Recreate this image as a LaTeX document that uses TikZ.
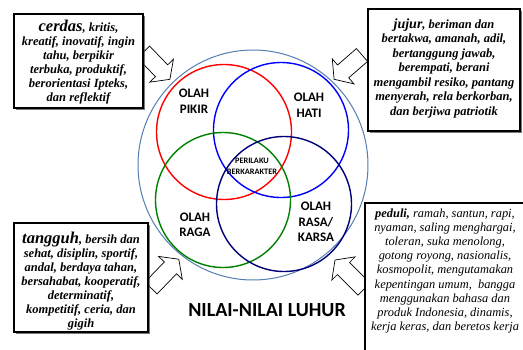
\documentclass[tikz,border=0pt]{standalone}
\usepackage{fontspec}
\setmainfont{Liberation Serif}
\newfontfamily\lblfont{Carlito}
\usetikzlibrary{shadows}
\definecolor{outerblue}{RGB}{84,125,178}
\definecolor{vgreen}{RGB}{0,128,0}
\definecolor{vnavy}{RGB}{0,0,120}
\newcommand\mkarrow[4]{%
  \begin{scope}[shift={(#1,#2)}, rotate=#3]
    \draw[barrow] (0,-8.5) -- (#4-12,-8.5) -- (#4-12,-16.5) -- (#4,0) -- (#4-12,16.5) -- (#4-12,8.5) -- (0,8.5) -- cycle;
  \end{scope}}
\begin{document}
\begin{tikzpicture}[x=1pt,y=-1pt,
  venn/.style={circle, draw, line width=1.4pt, minimum size=135pt, inner sep=0pt},
  lbl/.style={font=\lblfont\bfseries\fontsize{13}{15.5}\selectfont, align=center, inner sep=0pt},
  infobox/.style={draw, line width=1.2pt, fill=white, align=center, inner sep=0pt,
    drop shadow={shadow xshift=1.6pt, shadow yshift=-1.6pt, opacity=0.7, fill=black!75}},
  boxtext/.style={font=\bfseries\itshape\fontsize{12.5}{14}\selectfont},
  barrow/.style={draw=black, line width=0.7pt, fill=white, line join=miter}
]
\useasboundingbox (0,0) rectangle (523,349);

% outer circle and Venn circles
\node[circle, draw=outerblue, line width=1pt, minimum size=230pt, inner sep=0pt] (outer) at (253,165) {};
\node[venn, draw=red] (pikir) at (224,132) {};
\node[venn, draw=blue] (hati) at (281,130) {};
\node[venn, draw=vgreen] (raga) at (223,200) {};
\node[venn, draw=vnavy] (rasa) at (284,204) {};

% labels
\node[lbl] (lpikir) at (194,101) {OLAH\\PIKIR};
\node[lbl] (lhati) at (309,105) {OLAH\\HATI};
\node[lbl] (lraga) at (195,225) {OLAH\\RAGA};
\node[lbl] (lrasa) at (316,222) {OLAH\\RASA/\\KARSA};
\node[font=\lblfont\bfseries\fontsize{8.3}{11}\selectfont, align=center, inner sep=0pt] (lcenter) at (252,166) {PERILAKU\\BERKARAKTER};
\node[font=\lblfont\bfseries\fontsize{20}{24}\selectfont, inner sep=0pt] (title) at (267,310) {NILAI-NILAI LUHUR};

% block arrows
\mkarrow{143.5}{52}{-46}{38}
\mkarrow{362}{55}{-139}{37}
\mkarrow{151}{288}{46}{40}
\mkarrow{364}{289}{135}{41}

% boxes
\node[infobox, minimum width=129pt, minimum height=94pt] (bpikir) at (78.5,61) {};
\node[boxtext, align=center] (tpikir) at (78.5,62.5) {{\fontsize{16.5}{16}\selectfont cerdas}, kritis,\\ kreatif, inovatif, ingin\\ tahu, berpikir\\ terbuka, produktif,\\ berorientasi Ipteks,\\ dan reflektif};

\node[infobox, minimum width=152pt, minimum height=122pt] (bhati) at (444,70) {};
\node[boxtext, align=center, font=\bfseries\itshape\fontsize{12.5}{14.5}\selectfont] (thati) at (444,68) {{\fontsize{14}{14}\selectfont jujur}, beriman dan\\ bertakwa, amanah, adil,\\ bertanggung jawab,\\ berempati, berani\\ mengambil resiko, pantang\\ menyerah, rela berkorban,\\ dan berjiwa patriotik};

\node[infobox, minimum width=134pt, minimum height=109pt] (braga) at (81,277.5) {};
\node[boxtext, align=center] (traga) at (81,281) {{\fontsize{16.5}{16}\selectfont tangguh}, bersih dan\\ sehat, disiplin, sportif,\\ andal, berdaya tahan,\\ bersahabat, kooperatif,\\ determinatif,\\ kompetitif, ceria, dan\\ gigih};

\fill[white] (365,203) rectangle (530,360);
\draw[line width=1.2pt] (365,360) -- (365,203) -- (530,203);
\node[font=\itshape\fontsize{12.4}{14.1}\selectfont, align=center] (trasa) at (445,271) {\textbf{peduli,} ramah, santun, rapi,\\ nyaman, saling menghargai,\\ toleran, suka menolong,\\ gotong royong, nasionalis,\\ kosmopolit, mengutamakan\\ kepentingan umum, \ bangga\\ menggunakan bahasa dan\\ produk Indonesia, dinamis,\\ kerja keras, dan beretos kerja};
\end{tikzpicture}
\end{document}
